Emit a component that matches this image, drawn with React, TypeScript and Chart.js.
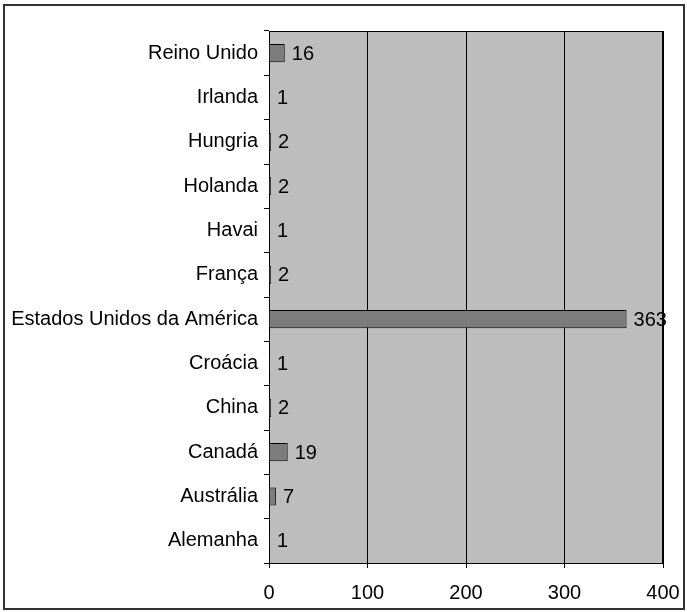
import React, { useEffect, useRef } from 'react';
import { Chart, registerables } from 'chart.js';
Chart.register(...registerables);

const categories = [
  'Reino Unido',
  'Irlanda',
  'Hungria',
  'Holanda',
  'Havai',
  'França',
  'Estados Unidos da América',
  'Croácia',
  'China',
  'Canadá',
  'Austrália',
  'Alemanha',
];
const values = [16, 1, 2, 2, 1, 2, 363, 1, 2, 19, 7, 1];
const xMin = 0;
const xMax = 400;
const xStep = 100;

const FONT = '"Liberation Sans", Arial, sans-serif';

const framePlugin = {
  id: 'frame',
  beforeDraw(chart: any) {
    const { ctx, chartArea } = chart;
    ctx.save();
    ctx.fillStyle = '#ffffff';
    ctx.fillRect(0, 0, chart.width, chart.height);
    ctx.strokeStyle = '#333333';
    ctx.lineWidth = 2;
    ctx.strokeRect(4, 5, 680, 604);
    ctx.fillStyle = '#bdbdbd';
    ctx.fillRect(chartArea.left, chartArea.top, chartArea.right - chartArea.left, chartArea.bottom - chartArea.top);
    ctx.restore();
  },
  afterDraw(chart: any) {
    const { ctx, chartArea } = chart;
    ctx.save();
    ctx.strokeStyle = '#000000';
    ctx.lineWidth = 1;
    ctx.beginPath();
    ctx.moveTo(chartArea.left, chartArea.top + 0.5);
    ctx.lineTo(chartArea.right, chartArea.top + 0.5);
    ctx.moveTo(chartArea.right - 0.5, chartArea.top);
    ctx.lineTo(chartArea.right - 0.5, chartArea.bottom);
    ctx.stroke();
    ctx.restore();
  },
  afterDatasetsDraw(chart: any) {
    const { ctx } = chart;
    const meta = chart.getDatasetMeta(0);
    ctx.save();
    ctx.fillStyle = '#000000';
    ctx.font = `20px ${FONT}`;
    ctx.textBaseline = 'middle';
    ctx.textAlign = 'left';
    meta.data.forEach((bar: any, i: number) => {
      ctx.fillText(String(values[i]), bar.x + 7, bar.y + 1);
    });
    ctx.restore();
  },
};

export default function App() {
  const ref = useRef<HTMLCanvasElement>(null);
  useEffect(() => {
    if (!ref.current) return;
    const chart = new Chart(ref.current, {
      type: 'bar',
      data: {
        labels: categories,
        datasets: [
          {
            data: values,
            backgroundColor: '#7c7c7c',
            borderColor: '#000000',
            borderWidth: 1,
            barPercentage: 0.41,
            categoryPercentage: 1,
          },
        ],
      },
      options: {
        indexAxis: 'y',
        responsive: false,
        animation: false,
        layout: { padding: { top: 31, right: 24, left: 0, bottom: 0 } },
        plugins: { legend: { display: false }, tooltip: { enabled: false } },
        scales: {
          x: {
            min: xMin,
            max: xMax,
            ticks: { stepSize: xStep, color: '#000', font: { family: FONT, size: 20 }, padding: 13 },
            grid: { color: '#000', lineWidth: 1, drawTicks: true, tickLength: 5, tickColor: '#000' },
            border: { display: true, color: '#000', width: 1 },
            afterFit(scale: any) {
              scale.height = 49;
              scale.paddingLeft = 0;
              scale.paddingRight = 0;
            },
          },
          y: {
            ticks: { color: '#000', font: { family: FONT, size: 20 }, padding: 6, autoSkip: false },
            grid: { display: true, drawOnChartArea: false, drawTicks: true, tickLength: 5, offset: true, color: '#000', tickColor: '#000' },
            border: { display: true, color: '#000', width: 1 },
            afterFit(scale: any) {
              scale.width = 269;
              scale.paddingTop = 0;
              scale.paddingBottom = 0;
            },
          },
        },
      },
      plugins: [framePlugin],
    } as any);
    return () => chart.destroy();
  }, []);
  return (
    <div style={{ position: 'fixed', left: 0, top: 0, width: 687, height: 612 }}>
      <canvas ref={ref} width={687} height={612} />
    </div>
  );
}
